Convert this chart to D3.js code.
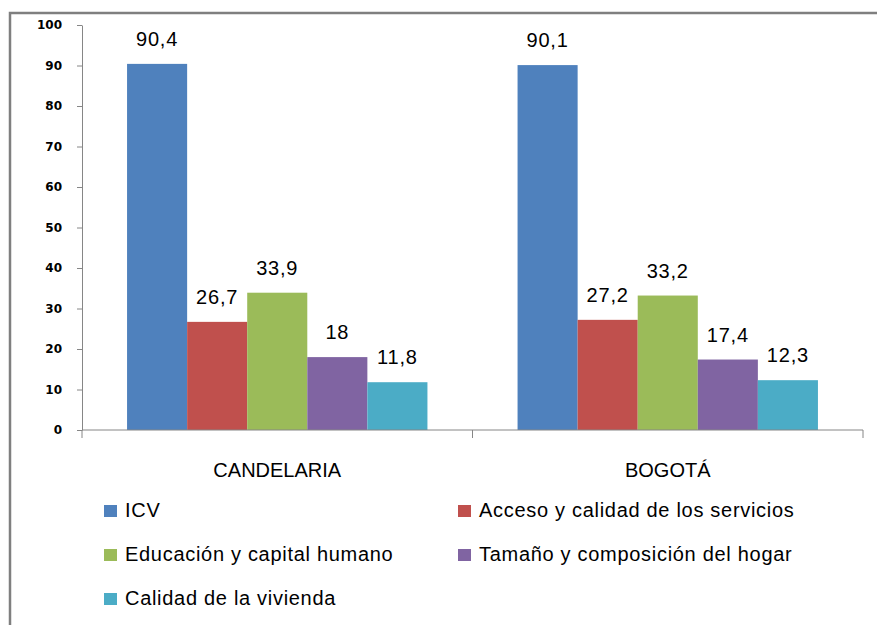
<!DOCTYPE html>
<html>
<head>
<meta charset="utf-8">
<script src="https://cdn.jsdelivr.net/npm/d3@7"></script>
<style>
  body { margin: 0; background: #fff; }
  .axis path, .axis line { stroke: #868686; }
  .axis text { font-family: "DejaVu Sans", sans-serif; font-weight: bold; font-size: 12px; fill: #000; }
  text { font-family: "Liberation Sans", Arial, sans-serif; }
</style>
</head>
<body>
<script>
var categories = ["CANDELARIA", "BOGOTÁ"];
var series = ["ICV", "Acceso y calidad de los servicios", "Educación y capital humano",
              "Tamaño y composición del hogar", "Calidad de la vivienda"];
var candelaria = [90.4, 26.7, 33.9, 18, 11.8];
var bogota = [90.1, 27.2, 33.2, 17.4, 12.3];
var yTicks = [0, 10, 20, 30, 40, 50, 60, 70, 80, 90, 100];
var colors = ["#4F81BD", "#C0504D", "#9BBB59", "#8064A2", "#4BACC6"];

var values = [candelaria, bogota];

var width = 877,
    height = 625;

var svg = d3.select("body").append("svg")
    .attr("width", width)
    .attr("height", height);

svg.append("rect").attr("width", width).attr("height", height).attr("fill", "#fff");

// outer frame (only left and top visible)
svg.append("path")
    .attr("d", "M10," + (height + 2) + " L10,13 L" + (width + 2) + ",13")
    .attr("fill", "none")
    .attr("stroke", "#7f7f7f")
    .attr("stroke-width", 2.5);

var x = d3.scaleBand()
    .domain(categories)
    .range([82, 863]);

var xSub = d3.scaleBand()
    .domain(series)
    .range([0, x.bandwidth()])
    .paddingInner(0)
    .paddingOuter(0.75);

var y = d3.scaleLinear()
    .domain([0, 100])
    .range([430, 25]);

var groups = svg.selectAll("g.cat")
    .data(categories)
  .enter().append("g")
    .attr("class", "cat")
    .attr("transform", function(d){ return "translate(" + x(d) + ",0)"; });

groups.selectAll("rect")
    .data(function(d, i){ return values[i].map(function(v, j){ return {s: series[j], v: v, c: colors[j]}; }); })
  .enter().append("rect")
    .attr("x", function(d){ return xSub(d.s); })
    .attr("y", function(d){ return y(d.v); })
    .attr("width", xSub.bandwidth())
    .attr("height", function(d){ return y(0) - y(d.v); })
    .attr("fill", function(d){ return d.c; });

groups.selectAll("text.val")
    .data(function(d, i){ return values[i].map(function(v, j){ return {s: series[j], v: v}; }); })
  .enter().append("text")
    .attr("class", "val")
    .attr("x", function(d){ return xSub(d.s) + xSub.bandwidth() / 2; })
    .attr("y", function(d){ return y(d.v) - 18; })
    .attr("text-anchor", "middle")
    .attr("font-size", "20px")
    .attr("letter-spacing", "0.8px")
    .attr("fill", "#000")
    .text(function(d){ return String(d.v).replace(".", ","); });

// y axis
var yAxis = d3.axisLeft(y)
    .tickValues(yTicks)
    .tickSize(5)
    .tickSizeOuter(0)
    .tickPadding(15);

svg.append("g")
    .attr("class", "axis")
    .attr("transform", "translate(82,0)")
    .call(yAxis);

// x axis with ticks between categories
var xAx = svg.append("g").attr("class", "axis");
xAx.append("line")
    .attr("x1", x.range()[0]).attr("x2", x.range()[1])
    .attr("y1", y(0)).attr("y2", y(0));
var bounds = categories.map(function(c){ return x(c); }).concat([x.range()[1]]);
xAx.selectAll("line.tk")
    .data(bounds)
  .enter().append("line")
    .attr("class", "tk")
    .attr("x1", function(d){ return d; }).attr("x2", function(d){ return d; })
    .attr("y1", y(0)).attr("y2", y(0) + 8);

svg.selectAll("text.cat")
    .data(categories)
  .enter().append("text")
    .attr("class", "cat")
    .attr("x", function(d){ return x(d) + x.bandwidth() / 2; })
    .attr("y", 477)
    .attr("text-anchor", "middle")
    .attr("font-size", "20px")
    .attr("fill", "#000")
    .text(function(d){ return d; });

// legend
var legX = [104, 458],
    legY = [517, 561, 605];

var leg = svg.selectAll("g.leg")
    .data(series)
  .enter().append("g")
    .attr("class", "leg")
    .attr("transform", function(d, i){
        return "translate(" + legX[i % 2] + "," + legY[Math.floor(i / 2)] + ")";
    });

leg.append("rect")
    .attr("x", 0).attr("y", -12)
    .attr("width", 13).attr("height", 12)
    .attr("fill", function(d, i){ return colors[i]; });

leg.append("text")
    .attr("x", 21)
    .attr("y", 0)
    .attr("font-size", "20px")
    .attr("letter-spacing", "0.7px")
    .attr("fill", "#000")
    .text(function(d){ return d; });
</script>
</body>
</html>
